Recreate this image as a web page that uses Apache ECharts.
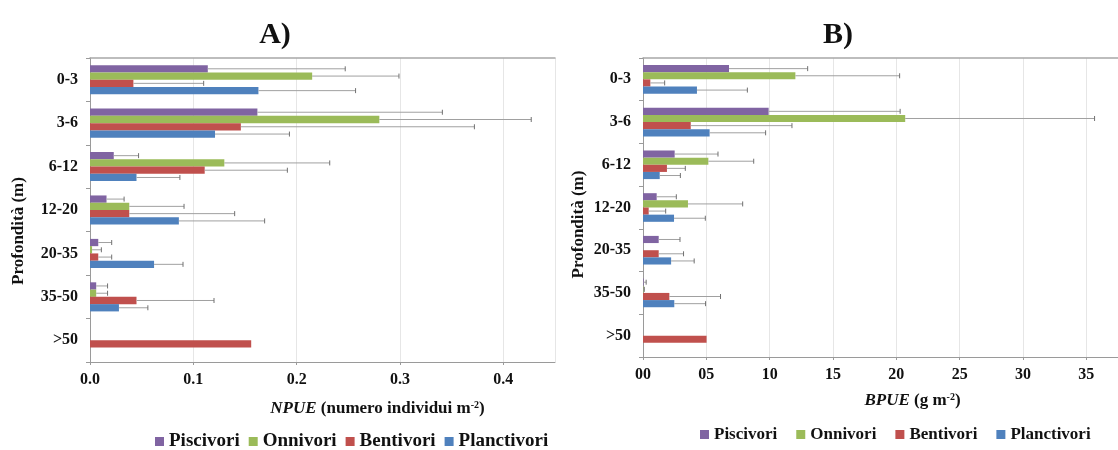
<!DOCTYPE html>
<html>
<head>
<meta charset="utf-8">
<script src="https://cdn.jsdelivr.net/npm/echarts@6/dist/echarts.min.js"></script>
<style>
html,body{margin:0;padding:0;background:#fff;}
#chart{width:1118px;height:450px;}
</style>
</head>
<body>
<div id="chart"></div>
<script>
// ---- Data ----
const categories = ['0-3', '3-6', '6-12', '12-20', '20-35', '35-50', '>50'];
const seriesNames = ['Piscivori', 'Onnivori', 'Bentivori', 'Planctivori'];

// A) NPUE (numero individui m-2): means and standard deviations
const npuePisc   = [0.114, 0.162, 0.023, 0.016, 0.008, 0.006, 0];
const npueOnn    = [0.215, 0.280, 0.130, 0.038, 0.002, 0.006, 0];
const npueBent   = [0.042, 0.146, 0.111, 0.038, 0.008, 0.045, 0.156];
const npuePlanc  = [0.163, 0.121, 0.045, 0.086, 0.062, 0.028, 0];
const npuePiscSD  = [0.133, 0.179, 0.024, 0.017, 0.013, 0.011, 0];
const npueOnnSD   = [0.084, 0.147, 0.102, 0.053, 0.009, 0.011, 0];
const npueBentSD  = [0.068, 0.226, 0.080, 0.102, 0.013, 0.075, 0];
const npuePlancSD = [0.094, 0.072, 0.042, 0.083, 0.028, 0.028, 0];

// B) BPUE (g m-2): means and standard deviations
const bpuePisc   = [6.79, 9.92, 2.50, 1.08, 1.24, 0.05, 0];
const bpueOnn    = [12.03, 20.70, 5.16, 3.55, 0, 0.03, 0];
const bpueBent   = [0.58, 3.77, 1.89, 0.45, 1.24, 2.08, 5.02];
const bpuePlanc  = [4.26, 5.26, 1.32, 2.45, 2.22, 2.47, 0];
const bpuePiscSD  = [6.21, 10.38, 3.42, 1.55, 1.68, 0.20, 0];
const bpueOnnSD   = [8.23, 14.95, 3.58, 4.32, 0, 0.07, 0];
const bpueBentSD  = [1.13, 7.99, 1.45, 1.34, 1.96, 4.04, 0];
const bpuePlancSD = [3.98, 4.42, 1.63, 2.47, 1.82, 2.47, 0];

// ---- Styles ----
const colors = ['#8064A2', '#9BBB59', '#C0504D', '#4F81BD'];
const FONT = '"Liberation Serif", "Times New Roman", serif';
const CAT_GAP = 0.33;

const npueMeans = [npuePisc, npueOnn, npueBent, npuePlanc];
const npueSDs = [npuePiscSD, npueOnnSD, npueBentSD, npuePlancSD];
const bpueMeans = [bpuePisc, bpueOnn, bpueBent, bpuePlanc];
const bpueSDs = [bpuePiscSD, bpueOnnSD, bpueBentSD, bpuePlancSD];

function errData(means, sds) {
  const out = [];
  means.forEach((arr, s) => {
    arr.forEach((v, c) => {
      out.push([v, v + sds[s][c], c, s]);
    });
  });
  return out;
}

function renderErr(params, api) {
  const v = api.value(0), hi = api.value(1), c = api.value(2), s = api.value(3);
  if (!(hi > v)) return;
  const p0 = api.coord([v, c]);
  const p1 = api.coord([hi, c]);
  const band = api.size([0, 1])[1];
  const bw = band * (1 - CAT_GAP) / 4;
  const y = p0[1] + (s - 1.5) * bw;
  return {
    type: 'group',
    children: [
      { type: 'line', shape: { x1: p0[0], y1: y, x2: p1[0], y2: y }, style: { stroke: '#a0a0a0', lineWidth: 1 } },
      { type: 'line', shape: { x1: p1[0], y1: y - 2.5, x2: p1[0], y2: y + 2.5 }, style: { stroke: '#707070', lineWidth: 1 } }
    ]
  };
}

const labelStyle = { fontFamily: FONT, fontWeight: 'bold', fontSize: 16, color: '#111' };

function valueAxis(grid, max, interval, fmt, name, namePadLeft, nameGap) {
  return {
    type: 'value', gridIndex: grid, min: 0, max: max, interval: interval,
    position: 'bottom',
    axisLine: { show: true, lineStyle: { color: '#9a9a9a', width: 1 } },
    axisTick: { show: true, length: 3, lineStyle: { color: '#9a9a9a' } },
    splitLine: { show: true, lineStyle: { color: '#e6e6e6', width: 1 } },
    axisLabel: Object.assign({ margin: 10, formatter: fmt, showMaxLabel: false }, labelStyle),
    name: name, nameLocation: 'middle', nameGap: nameGap,
    nameTextStyle: {
      fontFamily: FONT, fontWeight: 'bold', fontSize: 17, color: '#111',
      padding: [0, 0, 0, namePadLeft],
      rich: {
        i: { fontFamily: FONT, fontWeight: 'bold', fontStyle: 'italic', fontSize: 17, color: '#111', lineHeight: 18 },
        b: { fontFamily: FONT, fontWeight: 'bold', fontSize: 17, color: '#111', lineHeight: 18 },
        s: { fontFamily: FONT, fontWeight: 'bold', fontSize: 10, color: '#111', lineHeight: 10, verticalAlign: 'top' }
      }
    }
  };
}

function topAxis(grid, max) {
  return {
    type: 'value', gridIndex: grid, min: 0, max: max, position: 'top',
    axisLine: { show: true, lineStyle: { color: '#a8a8a8', width: 1.5 } },
    axisTick: { show: false }, axisLabel: { show: false }, splitLine: { show: false }
  };
}

function catAxis(grid, nameGap, namePadRight) {
  return {
    type: 'category', gridIndex: grid, data: categories, inverse: true,
    axisLine: { show: true, lineStyle: { color: '#9a9a9a', width: 1 } },
    axisTick: { show: true, length: 4, lineStyle: { color: '#9a9a9a' } },
    splitLine: { show: false },
    axisLabel: Object.assign({ margin: 12 }, labelStyle),
    name: 'Profondità (m)', nameLocation: 'middle', nameRotate: 90, nameGap: nameGap,
    nameTextStyle: {
      fontFamily: FONT, fontWeight: 'bold', fontSize: 17, color: '#111',
      padding: [0, namePadRight, 0, 0]
    }
  };
}

const series = [];
[npueMeans, bpueMeans].forEach((means, g) => {
  means.forEach((arr, s) => {
    series.push({
      type: 'bar', name: seriesNames[s], xAxisIndex: g, yAxisIndex: g,
      data: arr, barGap: '0%', barCategoryGap: (CAT_GAP * 100) + '%',
      itemStyle: { color: colors[s] }, emphasis: { disabled: true }
    });
  });
});
series.push({
  type: 'custom', name: 'errA', xAxisIndex: 0, yAxisIndex: 0,
  data: errData(npueMeans, npueSDs), encode: { x: [0, 1], y: 2 },
  renderItem: renderErr, z: 3, silent: true
});
series.push({
  type: 'custom', name: 'errB', xAxisIndex: 1, yAxisIndex: 1,
  data: errData(bpueMeans, bpueSDs), encode: { x: [0, 1], y: 2 },
  renderItem: renderErr, z: 3, silent: true
});

const legendTextA = { fontFamily: FONT, fontWeight: 'bold', fontSize: 19, color: '#111' };
const legendTextB = { fontFamily: FONT, fontWeight: 'bold', fontSize: 17, color: '#111' };

const option = {
  animation: false,
  backgroundColor: '#ffffff',
  color: colors,
  title: [
    { text: 'A)', left: 270, top: 30, textAlign: 'center', textVerticalAlign: 'middle',
      textStyle: { fontFamily: FONT, fontWeight: 'bold', fontSize: 30, color: '#111' } },
    { text: 'B)', left: 833, top: 30, textAlign: 'center', textVerticalAlign: 'middle',
      textStyle: { fontFamily: FONT, fontWeight: 'bold', fontSize: 30, color: '#111' } }
  ],
  legend: [
    { data: seriesNames, left: 150, top: 427, icon: 'rect', itemWidth: 9, itemHeight: 9,
      itemGap: 9, textStyle: legendTextA, selectedMode: false },
    { data: seriesNames, left: 695, top: 421, icon: 'rect', itemWidth: 9, itemHeight: 9,
      itemGap: 19, textStyle: legendTextB, selectedMode: false }
  ],
  grid: [
    { left: 90, top: 58, width: 465, height: 304 },
    { left: 643, top: 58, width: 475, height: 299 }
  ],
  xAxis: [
    valueAxis(0, 0.45, 0.1, v => v.toFixed(1),
      '{i|NPUE} {b|(numero individui m}{s|-2}{b|)}', 110, 38),
    valueAxis(1, 37.5, 5, v => String(Math.round(v)).padStart(2, '0'),
      '{i|BPUE} {b|(g m}{s|-2}{b|)}', 64, 35),
    topAxis(0, 0.45),
    topAxis(1, 37.5)
  ],
  yAxis: [
    catAxis(0, 63, 42),
    catAxis(1, 56, 34)
  ],
  series: series
};

const chart = echarts.init(document.getElementById('chart'), null, { renderer: 'canvas' });
chart.setOption(option);
</script>
</body>
</html>
